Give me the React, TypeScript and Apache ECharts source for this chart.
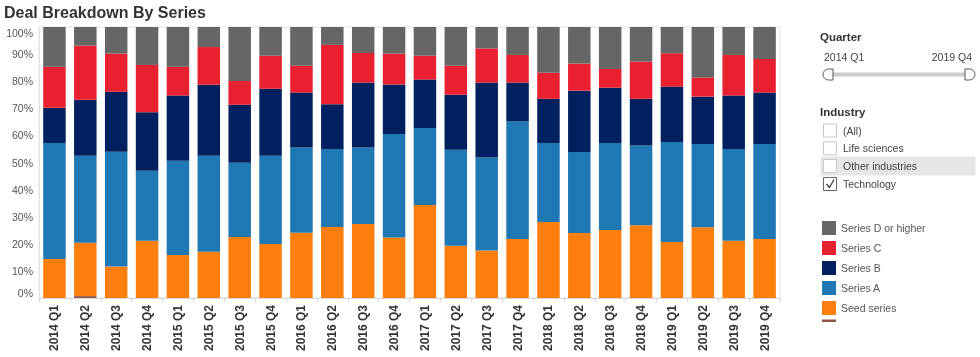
import { useEffect, useRef } from "react";
import * as echarts from "echarts";

const quarters = [
  "2014 Q1", "2014 Q2", "2014 Q3", "2014 Q4",
  "2015 Q1", "2015 Q2", "2015 Q3", "2015 Q4",
  "2016 Q1", "2016 Q2", "2016 Q3", "2016 Q4",
  "2017 Q1", "2017 Q2", "2017 Q3", "2017 Q4",
  "2018 Q1", "2018 Q2", "2018 Q3", "2018 Q4",
  "2019 Q1", "2019 Q2", "2019 Q3", "2019 Q4",
];

const unknownSeries = [0, 0.7, 0, 0, 0, 0, 0, 0, 0, 0, 0, 0, 0, 0, 0, 0, 0, 0, 0, 0, 0, 0, 0, 0];
const seedSeries = [14.4, 19.7, 11.6, 21.1, 15.9, 17.1, 22.5, 19.9, 24.1, 26.2, 27.3, 22.3, 34.3, 19.3, 17.5, 21.8, 28.0, 24.0, 25.1, 26.8, 20.7, 26.1, 21.1, 21.8];
const seriesA = [42.8, 32.1, 42.4, 25.9, 34.7, 35.4, 27.4, 32.6, 31.4, 28.8, 28.2, 38.2, 28.4, 35.4, 34.3, 43.4, 29.2, 29.9, 32.1, 29.5, 36.9, 30.7, 33.9, 35.0];
const seriesB = [13.0, 20.7, 22.1, 21.5, 24.1, 26.2, 21.4, 24.7, 20.3, 16.5, 24.0, 18.3, 17.9, 20.3, 27.7, 14.3, 16.3, 22.6, 20.4, 17.2, 20.4, 17.5, 19.7, 19.0];
const seriesC = [15.1, 19.9, 14.1, 17.5, 10.6, 13.9, 8.8, 12.2, 9.9, 21.9, 10.9, 11.4, 8.8, 10.7, 12.6, 10.2, 9.6, 10.0, 6.9, 13.7, 12.3, 7.1, 15.0, 12.4];
const seriesD = [14.7, 6.9, 9.8, 14.0, 14.7, 7.4, 19.9, 10.6, 14.3, 6.6, 9.6, 9.8, 10.6, 14.3, 7.9, 10.3, 16.9, 13.5, 15.5, 12.8, 9.7, 18.6, 10.3, 11.8];

const yTicks = { min: 0, max: 100, interval: 10 };
const legendNames = ["Series D or higher", "Series C", "Series B", "Series A", "Seed series"];
const industryItems = ["(All)", "Life sciences", "Other industries", "Technology"];
const quarterRange = ["2014 Q1", "2019 Q4"];

const FONT = "'Liberation Sans', Arial, sans-serif";

echarts.graphic.registerShape(
  "handleL",
  echarts.graphic.extendPath("M10 0 L5.5 0 A5.5 5.5 0 0 0 5.5 11 L10 11 Z", {})
);
echarts.graphic.registerShape(
  "handleR",
  echarts.graphic.extendPath("M0 0 L4.5 0 A5.5 5.5 0 0 1 4.5 11 L0 11 Z", {})
);

export default function App() {
  const ref = useRef<HTMLDivElement>(null);

  useEffect(() => {
    if (!ref.current) return;
    const chart = echarts.init(ref.current, null, { renderer: "svg" });

    const barSeries = [
      { name: "Unknown", data: unknownSeries, color: "#8c564b" },
      { name: "Seed series", data: seedSeries, color: "#ff7f0e" },
      { name: "Series A", data: seriesA, color: "#1f77b4" },
      { name: "Series B", data: seriesB, color: "#002060" },
      { name: "Series C", data: seriesC, color: "#e8202f" },
      { name: "Series D or higher", data: seriesD, color: "#666666" },
    ].map((s) => ({
      name: s.name,
      type: "bar",
      stack: "total",
      data: s.data,
      barWidth: 22.5,
      itemStyle: { color: s.color },
    }));

    const checkY = [130.5, 148.3, 166, 184];
    const graphics: any[] = [
      {
        type: "text",
        left: 4,
        top: 4,
        style: { text: "Deal Breakdown By Series", fontSize: 16, fontWeight: "bold", fill: "#333", fontFamily: FONT },
      },
      {
        type: "text",
        x: 820,
        y: 37,
        style: { text: "Quarter", fontSize: 11.5, fontWeight: "bold", fill: "#333", fontFamily: FONT, verticalAlign: "middle" },
      },
      {
        type: "text",
        x: 824,
        y: 57,
        style: { text: quarterRange[0], fontSize: 10.5, fill: "#444", fontFamily: FONT, verticalAlign: "middle" },
      },
      {
        type: "text",
        x: 972,
        y: 57,
        style: { text: quarterRange[1], fontSize: 10.5, fill: "#444", fontFamily: FONT, verticalAlign: "middle", align: "right" },
      },
      {
        type: "line",
        shape: { x1: 833, y1: 74.5, x2: 965, y2: 74.5 },
        style: { stroke: "#cccccc", lineWidth: 4 },
      },
      { type: "handleL", x: 823, y: 69, style: { fill: "#fff", stroke: "#555", lineWidth: 1 } },
      { type: "handleR", x: 965, y: 69, style: { fill: "#fff", stroke: "#555", lineWidth: 1 } },
      {
        type: "text",
        x: 820,
        y: 112,
        style: { text: "Industry", fontSize: 11.5, fontWeight: "bold", fill: "#333", fontFamily: FONT, verticalAlign: "middle" },
      },
      {
        type: "rect",
        shape: { x: 820.5, y: 156.5, width: 155, height: 19 },
        style: { fill: "#e6e6e6" },
      },
      {
        type: "rect",
        shape: { x: 822, y: 319.5, width: 14, height: 2.5 },
        style: { fill: "#8c564b" },
      },
    ];
    industryItems.forEach((name, i) => {
      const checked = name === "Technology";
      graphics.push({
        type: "rect",
        shape: { x: 823.5, y: checkY[i] - 6.5, width: 13, height: 13 },
        style: { fill: "#fff", stroke: checked ? "#666" : "#c8c8c8", lineWidth: 1 },
      });
      graphics.push({
        type: "text",
        x: 843,
        y: checkY[i],
        style: { text: name, fontSize: 10.5, fill: "#444", fontFamily: FONT, verticalAlign: "middle" },
      });
      if (checked) {
        graphics.push({
          type: "polyline",
          shape: { points: [[826.5, checkY[i]], [829.5, checkY[i] + 3.5], [834, checkY[i] - 4.5]] },
          style: { stroke: "#333", lineWidth: 1.2, fill: null },
        });
      }
    });

    chart.setOption({
      animation: false,
      grid: {
        left: 39,
        right: 200,
        top: 27,
        bottom: 59,
        show: true,
        borderColor: "#e3e3e3",
        borderWidth: 1,
        containLabel: false,
      },
      legend: {
        orient: "vertical",
        left: 822,
        top: 221,
        padding: 0,
        itemWidth: 14,
        itemHeight: 14,
        itemGap: 6,
        icon: "rect",
        data: legendNames,
        selectedMode: false,
        textStyle: { fontSize: 10.5, color: "#555", fontFamily: FONT, padding: [0, 0, 0, 0] },
      },
      xAxis: {
        type: "category",
        data: quarters,
        axisLine: { show: true, lineStyle: { color: "#d9d9d9" } },
        axisTick: { show: true, length: 4, lineStyle: { color: "#d9d9d9" } },
        axisLabel: {
          rotate: 90,
          margin: 7,
          fontSize: 12,
          fontWeight: "bold",
          color: "#333",
          fontFamily: FONT,
          interval: 0,
        },
      },
      yAxis: {
        type: "value",
        min: yTicks.min,
        max: yTicks.max,
        interval: yTicks.interval,
        splitLine: { show: false },
        axisLine: { show: true, lineStyle: { color: "#e3e3e3" } },
        axisTick: { show: false },
        axisLabel: {
          formatter: "{value}%",
          fontSize: 10.5,
          color: "#555",
          fontFamily: FONT,
          margin: 6,
          verticalAlignMaxLabel: "top",
          verticalAlignMinLabel: "bottom",
        },
      },
      series: barSeries,
      graphic: graphics,
    });

    return () => chart.dispose();
  }, []);

  return <div ref={ref} style={{ position: "fixed", left: 0, top: 0, width: 980, height: 357 }} />;
}
